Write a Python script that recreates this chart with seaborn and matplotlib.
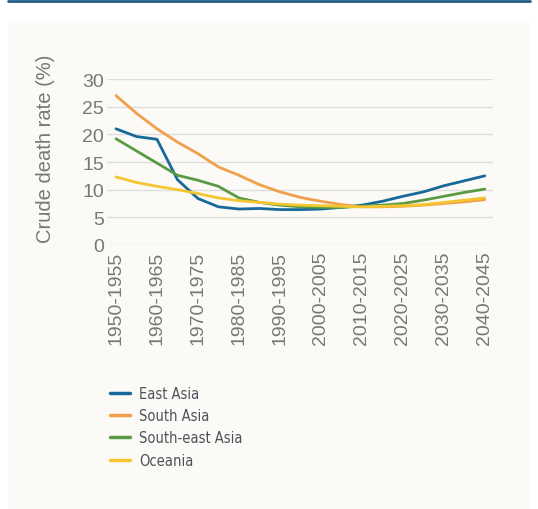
import pandas as pd
import matplotlib.pyplot as plt
import seaborn as sns
from matplotlib.patches import Rectangle
from matplotlib.lines import Line2D
from matplotlib import font_manager

# Data (5-year periods)
periods = [f"{y}-{y + 5}" for y in range(1950, 2045, 5)]
east_asia = [21.0, 19.6, 19.1, 11.8, 8.4, 6.9, 6.5, 6.6, 6.4, 6.4, 6.5, 6.8, 7.2, 7.9, 8.8, 9.6, 10.7, 11.6, 12.5]
south_asia = [27.0, 23.8, 21.0, 18.6, 16.5, 14.1, 12.6, 10.9, 9.6, 8.6, 7.9, 7.3, 6.9, 6.9, 7.0, 7.2, 7.5, 7.8, 8.2]
south_east_asia = [19.2, 17.0, 14.8, 12.6, 11.7, 10.6, 8.5, 7.7, 7.2, 6.9, 6.8, 6.8, 7.0, 7.2, 7.5, 8.1, 8.8, 9.5, 10.1]
oceania = [12.3, 11.3, 10.6, 10.0, 9.3, 8.5, 8.0, 7.7, 7.4, 7.2, 7.1, 7.0, 6.9, 7.0, 7.1, 7.3, 7.7, 8.1, 8.5]

regions = ["East Asia", "South Asia", "South-east Asia", "Oceania"]
colors = ["#17699a", "#f0a04a", "#5a9a42", "#f5c632"]

df = pd.concat([
    pd.DataFrame({"Period": periods, "Rate": vals, "Region": name})
    for name, vals in zip(regions, [east_asia, south_asia, south_east_asia, oceania])
])

sns.set_theme(style="white")
plt.rcParams["font.family"] = ["Liberation Sans", "DejaVu Sans"]

fig = plt.figure(figsize=(5.38, 5.10), dpi=100)
fig.patch.set_facecolor("white")
# off-white panel and top rule
fig.patches.append(Rectangle((8 / 538, 0), 522 / 538, 486 / 510, transform=fig.transFigure,
                             facecolor="#fbfaf6", edgecolor="none", zorder=-10))
fig.add_artist(Line2D([8 / 538, 530 / 538], [1 - 2 / 510, 1 - 2 / 510], color="#215c86", lw=2))

ax = fig.add_axes([107 / 538, 1 - 246 / 510, 386 / 538, 166 / 510])
ax.set_facecolor("none")

sns.lineplot(data=df, x="Period", y="Rate", hue="Region", palette=colors,
             linewidth=2.0, sort=False, ax=ax, legend=False)

ax.set_ylim(0, 30)
ax.set_xlim(-0.44, 18.4)
ax.set_yticks(range(0, 31, 5))
ax.set_xticks(range(0, 19, 2))
ax.set_xticklabels(periods[::2], rotation=90)
ax.grid(axis="y", color="#dedede", lw=1)
ax.set_axisbelow(True)
for s in ax.spines.values():
    s.set_visible(False)
ax.tick_params(axis="both", length=0, labelsize=14, labelcolor="#777777")
ax.tick_params(axis="y", pad=2)
ax.tick_params(axis="x", pad=4)
ax.set_xlabel("")
ax.set_ylabel("Crude death rate (%)", fontsize=14.5, color="#777777")
ax.yaxis.set_label_coords(-0.135, 0.585)

# condensed legend font
names = {f.name for f in font_manager.fontManager.ttflist}
if "Liberation Sans Narrow" in names:
    leg_prop = {"family": "Liberation Sans Narrow", "size": 12.5, "weight": "bold"}
else:
    leg_prop = {"family": "DejaVu Sans", "stretch": "condensed", "size": 10.5}

handles = [Line2D([], [], color=c, lw=2.5) for c in colors]
fig.legend(handles, regions, loc="upper left", bbox_to_anchor=(104 / 538, 1 - 381 / 510),
           frameon=False, handlelength=1.4, handletextpad=0.6, labelspacing=0.5,
           borderaxespad=0, prop=leg_prop, labelcolor="#4f525a")

plt.savefig("out.png", dpi=100)
